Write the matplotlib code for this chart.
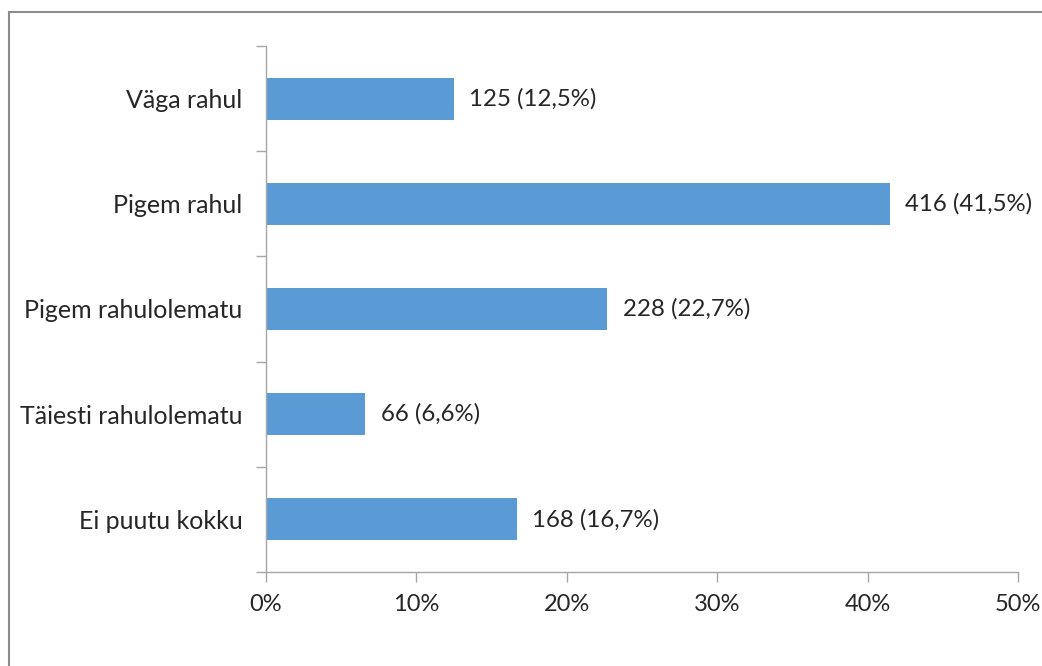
import matplotlib.pyplot as plt
from matplotlib.lines import Line2D
from matplotlib.ticker import FixedLocator, PercentFormatter

categories = ["Väga rahul", "Pigem rahul", "Pigem rahulolematu",
              "Täiesti rahulolematu", "Ei puutu kokku"]
counts = [125, 416, 228, 66, 168]
percents = [12.5, 41.5, 22.7, 6.6, 16.7]
x_ticks = [0, 10, 20, 30, 40, 50]

plt.rcParams['font.family'] = ['Lato', 'DejaVu Sans']
axis_gray = "#A6A6A6"
text_color = "#262626"
fs = 17

fig = plt.figure(figsize=(10.42, 6.66), dpi=100)
ax = fig.add_axes([266 / 1042, 1 - 572 / 666, (1018 - 266) / 1042, (572 - 46) / 666])

ypos = list(range(len(categories)))
ax.barh(ypos, percents, height=0.4, color="#5B9BD5")
for y, c, p in zip(ypos, counts, percents):
    label = f"{c} ({p:.1f}%)".replace(".", ",")
    ax.annotate(label, (p, y), xytext=(11, 0), textcoords="offset points",
                va="center", ha="left", fontsize=fs + 0.3, color=text_color)

ax.set_xlim(0, 50)
ax.set_ylim(len(categories) - 0.5, -0.5)
ax.set_xticks(x_ticks)
ax.xaxis.set_major_formatter(PercentFormatter(decimals=0))
ax.set_yticks(ypos)
ax.set_yticklabels(categories)
ax.yaxis.set_minor_locator(FixedLocator([i - 0.5 for i in range(len(categories) + 1)]))
ax.tick_params(axis="y", which="major", length=0, pad=17, labelsize=18, labelcolor=text_color)
ax.tick_params(axis="y", which="minor", length=7, width=1, color=axis_gray)
ax.tick_params(axis="x", length=7, width=1, color=axis_gray, pad=9,
               labelsize=fs, labelcolor=text_color)

for side in ["top", "right"]:
    ax.spines[side].set_visible(False)
for side in ["left", "bottom"]:
    ax.spines[side].set_color(axis_gray)
    ax.spines[side].set_linewidth(1)

# outer chart border, only top and left edges visible in the crop
fig.add_artist(Line2D([9 / 1042, 9 / 1042], [0, 1 - 12 / 666], color="#8C8C8C", lw=1.5))
fig.add_artist(Line2D([9 / 1042, 1], [1 - 12 / 666, 1 - 12 / 666], color="#8C8C8C", lw=1.5))

fig.savefig("out.png", dpi=100)
